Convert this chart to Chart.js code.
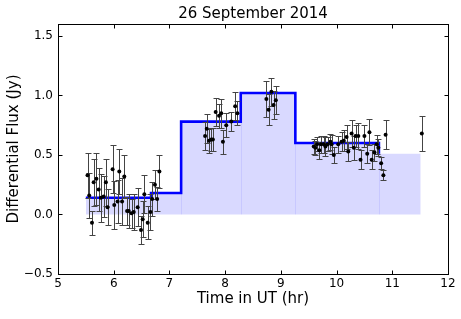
<!DOCTYPE html>
<html><head><meta charset="utf-8">
<script src="https://cdn.jsdelivr.net/npm/chart.js@4"></script>
<style>html,body{margin:0;padding:0;background:#fff}canvas{display:block}</style>
</head><body>
<canvas id="c" width="461" height="319"></canvas>
<script>
// ---- data ----
const timeHr = [
  5.53,5.56,5.61,5.64,5.69,5.73,5.77,5.82,5.86,5.89,5.98,6.01,6.07,6.10,6.15,6.19,6.24,6.27,6.32,6.36,
  6.43,6.49,6.52,6.55,6.61,6.66,6.69,6.74,6.78,6.82,
  7.64,7.67,7.71,7.75,7.78,7.83,7.89,7.93,7.96,8.02,8.11,8.18,8.22,
  8.74,8.78,8.83,8.87,8.91,
  9.59,9.62,9.65,9.69,9.72,9.77,9.80,9.84,9.89,9.91,9.95,10.03,10.09,10.13,10.18,10.21,10.27,10.31,
  10.34,10.39,10.43,10.50,10.55,10.59,10.63,10.68,10.72,10.75,10.80,10.84,10.88,11.53
];
const fluxJy = [
  0.33,0.16,-0.07,0.27,0.30,0.21,0.14,0.15,0.27,0.06,0.38,0.08,0.11,0.36,0.11,0.32,0.03,0.03,0.01,0.02,
  0.06,-0.13,-0.04,0.17,-0.07,0.02,0.13,0.25,0.13,0.36,
  0.66,0.72,0.62,0.63,0.63,0.86,0.83,0.85,0.61,0.75,0.78,0.91,0.85,
  0.97,0.88,1.03,0.92,0.96,
  0.57,0.56,0.59,0.54,0.59,0.59,0.57,0.59,0.61,0.59,0.50,0.59,0.61,0.62,0.65,0.53,0.68,0.56,
  0.66,0.66,0.46,0.66,0.51,0.69,0.46,0.52,0.59,0.56,0.43,0.33,0.67,0.68
];
const fluxErr = [
  0.19,0.19,0.10,0.20,0.22,0.18,0.20,0.17,0.20,0.15,0.20,0.20,0.18,0.19,0.20,0.18,0.12,0.14,0.12,0.15,
  0.16,0.12,0.15,0.16,0.14,0.15,0.14,0.12,0.10,0.14,
  0.12,0.12,0.10,0.10,0.10,0.12,0.10,0.12,0.10,0.10,0.08,0.12,0.10,
  0.15,0.13,0.12,0.12,0.12,
  0.06,0.06,0.06,0.07,0.07,0.07,0.08,0.06,0.07,0.08,0.07,0.07,0.08,0.09,0.10,0.08,0.11,0.10,
  0.09,0.11,0.08,0.09,0.08,0.11,0.08,0.07,0.08,0.07,0.05,0.04,0.12,0.15
];
const stepEdges  = [5.5, 6.67, 7.21, 8.28, 9.26, 10.76, 11.51];
const stepLevels = [0.14, 0.18, 0.78, 1.02, 0.60, 0.51];
const lineEdgeCount = 6;          // the blue step line stops at the 6th edge
const xTicks = [5,6,7,8,9,10,11,12];
const yTicks = [-0.5,0,0.5,1.0,1.5];

// ---- build datasets ----
const fillData = stepEdges.map((x,i)=>({x, y: stepLevels[Math.min(i, stepLevels.length-1)]}));
const lineData = fillData.slice(0, lineEdgeCount);
const ptData = timeHr.map((x,i)=>({x, y: fluxJy[i]}));

const PTS = 0, LINE = 1, FILL = 2;
const FONT = "'DejaVu Sans', sans-serif";

const decor = {
  id: 'decor',
  beforeDatasetDraw(chart, args) {
    const ctx = chart.ctx, xs = chart.scales.x, ys = chart.scales.y, a = chart.chartArea;
    ctx.save();
    ctx.beginPath(); ctx.rect(a.left, a.top, a.right - a.left, a.bottom - a.top); ctx.clip();
    if (args.index === LINE) {
      ctx.strokeStyle = 'rgba(0,0,255,0.08)';
      ctx.lineWidth = 1;
      for (let i = 1; i < stepEdges.length - 1; i++) {
        const h = Math.min(stepLevels[i-1], stepLevels[i]);
        const px = Math.round(xs.getPixelForValue(stepEdges[i])) + 0.5;
        ctx.beginPath();
        ctx.moveTo(px, ys.getPixelForValue(0));
        ctx.lineTo(px, ys.getPixelForValue(h));
        ctx.stroke();
      }
    }
    if (args.index === PTS) {
      ctx.strokeStyle = '#444';
      ctx.lineWidth = 1;
      for (let i = 0; i < timeHr.length; i++) {
        const px = Math.round(xs.getPixelForValue(timeHr[i])) + 0.5;
        const y1 = Math.round(ys.getPixelForValue(fluxJy[i] + fluxErr[i])) + 0.5;
        const y2 = Math.round(ys.getPixelForValue(fluxJy[i] - fluxErr[i])) + 0.5;
        ctx.beginPath();
        ctx.moveTo(px, y1); ctx.lineTo(px, y2);
        ctx.moveTo(px - 3, y1); ctx.lineTo(px + 3, y1);
        ctx.moveTo(px - 3, y2); ctx.lineTo(px + 3, y2);
        ctx.stroke();
      }
    }
    ctx.restore();
  },
  afterDraw(chart) {
    const ctx = chart.ctx, xs = chart.scales.x, ys = chart.scales.y, a = chart.chartArea;
    ctx.save();
    ctx.strokeStyle = '#000';
    ctx.lineWidth = 1;
    const L = Math.round(a.left) + 0.5, R = Math.round(a.right) + 0.5;
    const T = Math.round(a.top) + 0.5, B = Math.round(a.bottom) + 0.5;
    ctx.strokeRect(L, T, R - L, B - T);
    const tl = 4;
    ctx.beginPath();
    xTicks.forEach(v => {
      const px = Math.round(xs.getPixelForValue(v)) + 0.5;
      ctx.moveTo(px, B); ctx.lineTo(px, B - tl);
      ctx.moveTo(px, T); ctx.lineTo(px, T + tl);
    });
    yTicks.forEach(v => {
      const py = Math.round(ys.getPixelForValue(v)) + 0.5;
      ctx.moveTo(L, py); ctx.lineTo(L + tl, py);
      ctx.moveTo(R, py); ctx.lineTo(R - tl, py);
    });
    ctx.stroke();
    ctx.restore();
  }
};

new Chart(document.getElementById('c'), {
  type: 'line',
  data: {
    datasets: [
      { data: ptData, showLine: false, pointRadius: 2, pointBackgroundColor: '#000',
        pointBorderColor: '#000', pointBorderWidth: 0, order: 0 },
      { data: lineData, stepped: 'before', borderColor: '#0000ff', borderWidth: 2.6,
        pointRadius: 0, fill: false, order: 1 },
      { data: fillData, stepped: 'before', borderWidth: 0, borderColor: 'rgba(0,0,0,0)',
        backgroundColor: 'rgba(0,0,255,0.15)', pointRadius: 0, fill: 'origin', order: 2 }
    ]
  },
  options: {
    responsive: false,
    animation: false,
    devicePixelRatio: 1,
    layout: { padding: { left: 0, right: 13, top: 0, bottom: 0 } },
    plugins: {
      legend: { display: false },
      tooltip: { enabled: false },
      title: { display: true, fullSize: false, text: '26 September 2014', color: '#000',
        font: { family: FONT, size: 15, weight: 'normal', lineHeight: 1.2 },
        padding: { top: 5, bottom: 1 } }
    },
    scales: {
      x: {
        type: 'linear', min: 5, max: 12,
        grid: { display: false, drawTicks: false },
        border: { display: false },
        afterBuildTicks: s => { s.ticks = xTicks.map(v => ({ value: v })); },
        afterFit: s => { s.height = 45; },
        ticks: { color: '#000', padding: 3, maxRotation: 0, autoSkip: false,
          font: { family: FONT, size: 12 }, callback: v => String(v) },
        title: { display: true, text: 'Time in UT (hr)', color: '#000',
          font: { family: FONT, size: 15 }, padding: { top: 0, bottom: 11 } }
      },
      y: {
        type: 'linear', min: -0.5, max: 1.6,
        grid: { display: false, drawTicks: false },
        border: { display: false },
        afterBuildTicks: s => { s.ticks = yTicks.map(v => ({ value: v })); },
        afterFit: s => { s.width = 58; },
        ticks: { color: '#000', padding: 5, autoSkip: false,
          font: { family: FONT, size: 12 },
          callback: v => (v < 0 ? '\u2212' : '') + Math.abs(v).toFixed(1) },
        title: { display: true, text: 'Differential Flux (Jy)', color: '#000',
          font: { family: FONT, size: 15 }, padding: { top: 5, bottom: 0 } }
      }
    }
  },
  plugins: [decor]
});
</script>
</body></html>
